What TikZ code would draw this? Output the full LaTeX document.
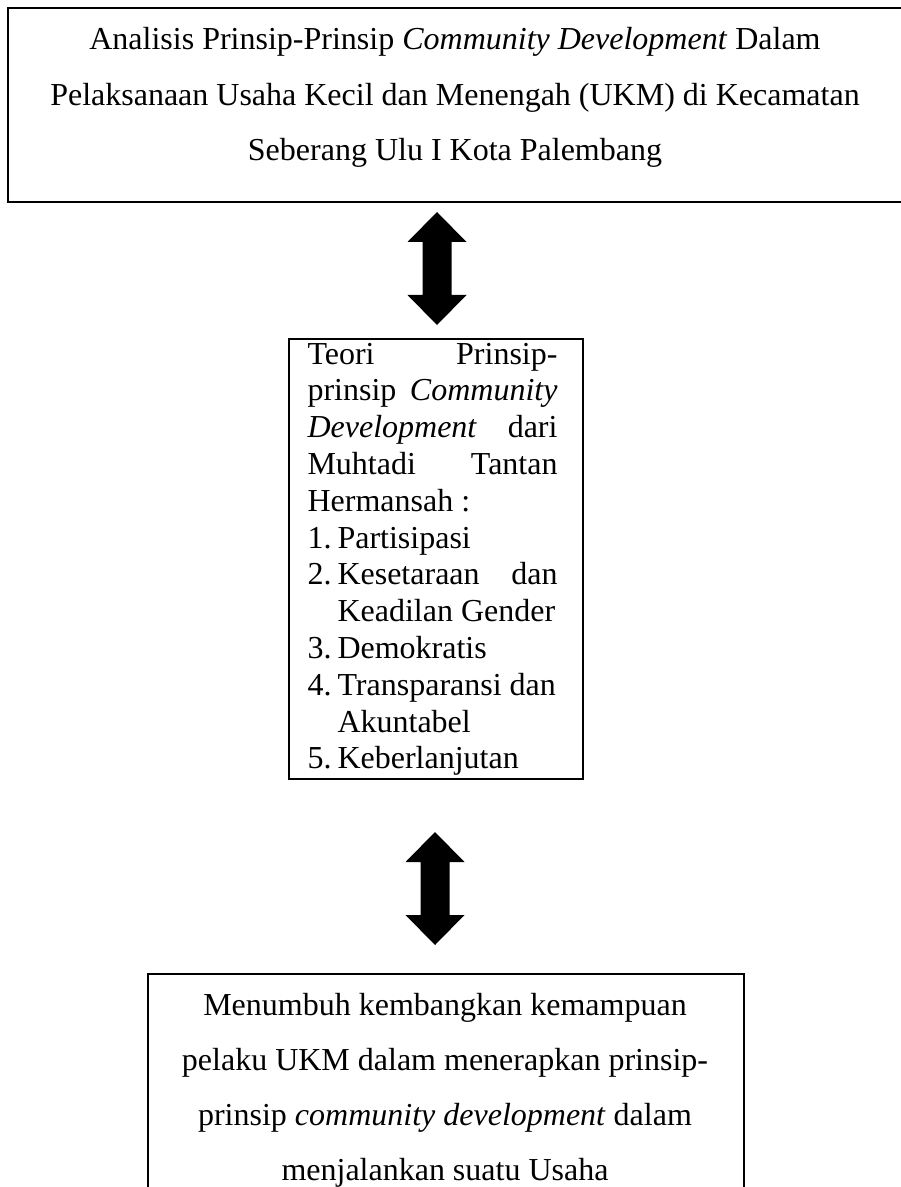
\documentclass[tikz,border=0pt]{standalone}
\usepackage{fontspec}
\setmainfont{Liberation Serif}
\newlength\mymw \setlength\mymw{93.75pt}
\newlength\myind \setlength\myind{11.25pt}
\newlength\mytw
\newcommand\ctrline[1]{\hbox to \mytw{\hss#1\hss}}
\newcommand\jline[1]{\hbox to \mymw{#1}}
\newcommand\lline[1]{\hbox to \mymw{#1\hfil}}
\newcommand\numline[2]{\hbox to \mymw{\hbox to \myind{#1\hfil}#2\hfil}}
\newcommand\numjline[2]{\hbox to \mymw{\hbox to \myind{#1\hfil}#2}}
\newcommand\contline[1]{\hbox to \mymw{\hskip\myind #1\hfil}}
\begin{document}
\begin{tikzpicture}[x=0.375pt,y=-0.375pt,
  frame/.style={draw, line width=0.9pt, inner sep=0pt, anchor=north west},
  bigtxt/.style={font=\fontsize{12}{20.7}\selectfont, inner sep=0pt, anchor=base},
  listtxt/.style={font=\fontsize{12}{13.8}\selectfont, inner sep=0pt, anchor=base west},
  dblarrow/.pic={\fill[black] (0,-56.5) -- ++(29.5,30) -- ++(-15,0) -- ++(0,53) -- ++(15,0) -- ++(-29.5,30) -- ++(-29.5,-30) -- ++(15,0) -- ++(0,-53) -- ++(-15,0) -- cycle;}]
\useasboundingbox (0,0) rectangle (900,1187);
% boxes
\node[frame, minimum width=340.5pt, minimum height=72.75pt] (top) at (7,7) {};
\node[frame, minimum width=110.25pt, minimum height=165pt] (mid) at (288,338) {};
\node[frame, minimum width=223.5pt, minimum height=92.6pt] (bot) at (147,973) {};
% texts
\node[bigtxt] (toptext) at (455,50) {\setlength\mytw{340pt}\vtop{%
\ctrline{Analisis Prinsip-Prinsip \textit{Community Development} Dalam}
\ctrline{Pelaksanaan Usaha Kecil dan Menengah (UKM) di Kecamatan}
\ctrline{Seberang Ulu I Kota Palembang}}};
\node[listtxt] (midtext) at (307,364) {\vtop{%
\jline{Teori\hfil Prinsip-}
\jline{prinsip \textit{Community}}
\jline{\textit{Development} dari}
\jline{Muhtadi\hfil Tantan}
\lline{Hermansah :}
\numline{1.}{Partisipasi}
\numjline{2.}{Kesetaraan\hfil dan}
\contline{Keadilan Gender}
\numline{3.}{Demokratis}
\numline{4.}{Transparansi dan}
\contline{Akuntabel}
\numline{5.}{Keberlanjutan}}};
\node[bigtxt] (bottext) at (445,1015) {\setlength\mytw{220pt}\vtop{%
\ctrline{Menumbuh kembangkan kemampuan}
\ctrline{pelaku UKM dalam menerapkan prinsip-}
\ctrline{prinsip \textit{community development} dalam}
\ctrline{menjalankan suatu Usaha}}};
% double block arrows between boxes
\coordinate (a1) at (437,268.5);
\coordinate (a2) at (435,888.5);
\pic at (a1) {dblarrow};
\pic at (a2) {dblarrow};
\end{tikzpicture}
\end{document}
